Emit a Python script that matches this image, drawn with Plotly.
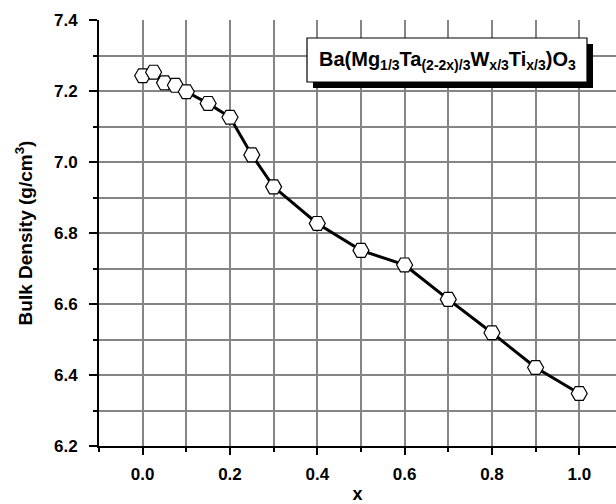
import plotly.graph_objects as go

x_vals = [0.0, 0.025, 0.05, 0.075, 0.1, 0.15, 0.2, 0.25, 0.3, 0.4, 0.5, 0.6, 0.7, 0.8, 0.9, 1.0]
density = [7.243, 7.253, 7.223, 7.216, 7.198, 7.165, 7.126, 7.020, 6.930, 6.827, 6.751, 6.710, 6.613, 6.519, 6.421, 6.348]
x_ticks = [0.0, 0.2, 0.4, 0.6, 0.8, 1.0]
y_ticks = [6.2, 6.4, 6.6, 6.8, 7.0, 7.2, 7.4]
legend_text = "Ba(Mg<sub>1/3</sub>Ta<sub>(2-2x)/3</sub>W<sub>x/3</sub>Ti<sub>x/3</sub>)O<sub>3</sub>"

W, H = 616, 504
L, R, T, B = 99, 616, 20, 446

font = "Liberation Sans, Arial, Helvetica, sans-serif"
grid_c = "#858585"

fig = go.Figure()
fig.add_trace(go.Scatter(
    x=x_vals, y=density, mode="lines+markers",
    line=dict(color="black", width=3),
    marker=dict(symbol="hexagon2", size=16, color="white",
                line=dict(color="black", width=1.2)),
    showlegend=False, cliponaxis=False,
))

fig.update_layout(
    width=W, height=H,
    margin=dict(l=L, r=W - R, t=T, b=H - B),
    paper_bgcolor="white", plot_bgcolor="white",
    font=dict(family=font, color="black"),
)
fig.update_xaxes(
    range=[-0.1, -0.1 + (R - L) / 436.6 * 1.0],
    tickvals=x_ticks, ticktext=[f"<b>{v:.1f}</b>" for v in x_ticks],
    tickfont=dict(size=17, family=font, color="black"),
    ticks="outside", ticklen=7, tickwidth=1.5, tickcolor="black",
    ticklabelstandoff=5,
    minor=dict(dtick=0.1, tick0=0, ticks="outside", ticklen=4, tickcolor="black",
               showgrid=True, gridcolor=grid_c, gridwidth=1.5),
    showgrid=True, gridcolor=grid_c, gridwidth=1.5,
    showline=True, linecolor="black", linewidth=2, zeroline=False,
    title=dict(text="<b>x</b>", font=dict(size=18, family=font), standoff=7),
)
fig.update_yaxes(
    range=[6.2, 7.4],
    tickvals=y_ticks, ticktext=[f"<b>{v:.1f}</b>" for v in y_ticks],
    tickfont=dict(size=17, family=font, color="black"),
    ticks="outside", ticklen=8, tickwidth=1.5, tickcolor="black",
    ticklabelstandoff=8,
    minor=dict(dtick=0.1, tick0=6.2, ticks="outside", ticklen=4, tickcolor="black",
               showgrid=True, gridcolor=grid_c, gridwidth=1.5),
    showgrid=True, gridcolor=grid_c, gridwidth=1.5,
    showline=True, linecolor="black", linewidth=2, zeroline=False,
    title=dict(text="<b>Bulk Density (g/cm<sup>3</sup>)</b>", font=dict(size=19, family=font), standoff=16),
)

# legend box with shadow
x0p, x1p, y0p, y1p = 307, 587, 38, 82
def px2paper_x(p):
    return (p - L) / (R - L)
def px2paper_y(p):
    return (B - p) / (B - T)
fig.add_shape(type="rect", xref="paper", yref="paper",
              x0=px2paper_x(x0p + 6), x1=px2paper_x(x1p + 6),
              y0=px2paper_y(y1p + 6), y1=px2paper_y(y0p + 6),
              fillcolor="black", line=dict(width=0), layer="above")
fig.add_shape(type="rect", xref="paper", yref="paper",
              x0=px2paper_x(x0p), x1=px2paper_x(x1p),
              y0=px2paper_y(y1p), y1=px2paper_y(y0p),
              fillcolor="white", line=dict(color="black", width=1.2), layer="above")
fig.add_annotation(xref="paper", yref="paper",
                   x=px2paper_x((x0p + x1p) / 2), y=px2paper_y((y0p + y1p) / 2),
                   text="<b>" + legend_text + "</b>", showarrow=False,
                   font=dict(size=20, family=font, color="black"),
                   xanchor="center", yanchor="middle")

fig.write_html("out.html", config={"displayModeBar": False},
               post_script="document.body.style.margin='0px';document.body.style.overflow='hidden';")
